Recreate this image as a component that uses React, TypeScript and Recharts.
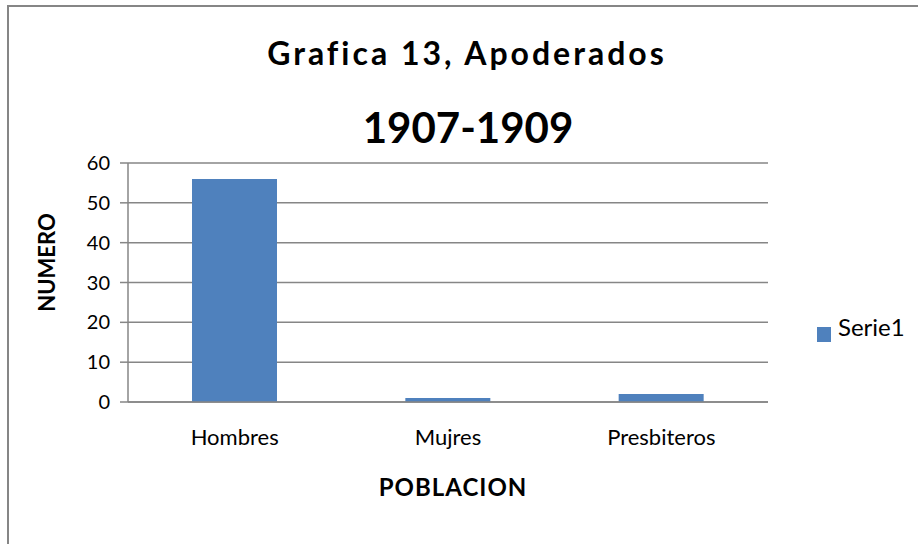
import React from 'react';
import { BarChart, Bar, XAxis, YAxis, CartesianGrid, Legend, Label } from 'recharts';

const categories = ['Hombres', 'Mujres', 'Presbiteros'];
const serie1 = [56, 1, 2];
const yTicks = [0, 10, 20, 30, 40, 50, 60];
const seriesName = 'Serie1';
const titleLine1 = 'Grafica 13, Apoderados';
const titleLine2 = '1907-1909';
const xTitle = 'POBLACION';
const yTitle = 'NUMERO';

const data = categories.map((c, i) => ({ name: c, [seriesName]: serie1[i] }));

const GRAY = '#868686';
const BLUE = '#4F81BD';
const FONT = 'Lato, "Open Sans", sans-serif';

const renderLegend = (props: any) => {
  const { payload } = props;
  return (
    <div style={{ display: 'flex', flexDirection: 'column', fontFamily: FONT }}>
      {(payload || []).map((p: any) => (
        <div key={p.value} style={{ display: 'flex', alignItems: 'flex-start' }}>
          <span style={{ display: 'inline-block', width: 14, height: 15, background: p.color, marginTop: 12, marginRight: 7 }} />
          <span style={{ fontSize: 24, lineHeight: '24px', color: '#000' }}>{p.value}</span>
        </div>
      ))}
    </div>
  );
};

export default function App() {
  return (
    <div style={{ position: 'absolute', left: 0, top: 0, width: 918, height: 544, background: '#fff', fontFamily: FONT, overflow: 'hidden' }}>
      <div style={{ position: 'absolute', left: 7, top: 5, right: -5, bottom: -5, borderTop: `2px solid ${GRAY}`, borderLeft: `2px solid ${GRAY}` }} />
      <svg width={918} height={160} style={{ position: 'absolute', left: 0, top: 0 }}>
        <text x={467} y={65} textAnchor="middle" fontSize={32} fontWeight={700} letterSpacing={3} fill="#000" fontFamily={FONT}>{titleLine1}</text>
        <text x={468} y={143} textAnchor="middle" fontSize={42} fontWeight={700} fill="#000" fontFamily={FONT}>{titleLine2}</text>
      </svg>
      <div style={{ position: 'absolute', left: 0, top: 0 }}>
        <BarChart width={918} height={544} data={data} margin={{ top: 163, right: 50, bottom: 82, left: 0 }} style={{ fontFamily: FONT }}>
          <CartesianGrid vertical={false} stroke={GRAY} strokeWidth={1.5} />
          <XAxis
            dataKey="name"
            height={60}
            axisLine={{ stroke: GRAY, strokeWidth: 1.5 }}
            tickLine={false}
            tickSize={0}
            tickMargin={27}
            tick={{ fontSize: 22, fill: '#000', fontFamily: FONT }}
          >
            <Label
              content={(p: any) => {
                const vb = p.viewBox || {};
                return (
                  <text x={vb.x + vb.width / 2 + 5} y={vb.y + 94} textAnchor="middle" fontSize={24} fontWeight={700} letterSpacing={1} fill="#000" fontFamily={FONT}>{xTitle}</text>
                );
              }}
            />
          </XAxis>
          <YAxis
            width={128}
            domain={[0, 60]}
            ticks={yTicks}
            interval={0}
            axisLine={{ stroke: GRAY, strokeWidth: 1.5 }}
            tickLine={{ stroke: GRAY, strokeWidth: 1.5 }}
            tickSize={8}
            tickMargin={10}
            tick={{ fontSize: 20, fill: '#000', fontFamily: FONT }}
          >
            <Label
              content={(p: any) => {
                const vb = p.viewBox || {};
                const cx = 46;
                const cy = vb.y + vb.height / 2 - 20;
                return (
                  <text x={cx} y={cy} textAnchor="middle" dominantBaseline="central" transform={`rotate(-90, ${cx}, ${cy})`} fontSize={22} fontWeight={700} fill="#000" fontFamily={FONT}>{yTitle}</text>
                );
              }}
            />
          </YAxis>
          <Legend
            layout="horizontal"
            align="right"
            verticalAlign="middle"
            content={renderLegend}
            wrapperStyle={{ left: 817, top: 315, right: 'auto', bottom: 'auto', width: 100 }}
          />
          <Bar dataKey={seriesName} fill={BLUE} barSize={85} isAnimationActive={false} />
        </BarChart>
      </div>
    </div>
  );
}
